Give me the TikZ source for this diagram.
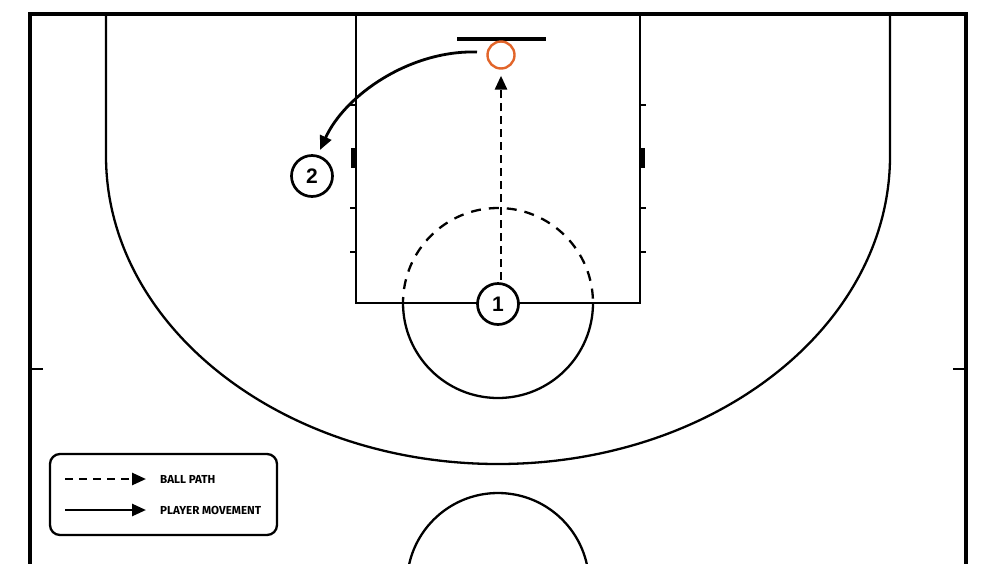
\documentclass[tikz,border=0pt]{standalone}
\usepackage{fontspec}
\setmainfont{Liberation Sans}
\newfontfamily\legendfont{Fira Sans}
\usetikzlibrary{arrows.meta}
\definecolor{hooporange}{HTML}{E2652A}
\begin{document}
\begin{tikzpicture}[x=1pt,y=-1pt,
  court/.style={line width=2.3pt,black},
  bound/.style={line width=3.8pt,black},
  tickmark/.style={line width=2.3pt,black},
  blockmark/.style={fill=black,draw=none},
  player/.style={circle,draw,line width=2.7pt,minimum size=41pt,inner sep=0pt,font=\fontsize{21}{21}\selectfont\bfseries,fill=white},
  ballpath/.style={line width=2.8pt,dash pattern=on 8pt off 5pt,-{Triangle[length=14pt,width=12pt]}},
  movement/.style={line width=2.8pt,-{Triangle[length=14pt,width=12pt]}},
  legtext/.style={font=\legendfont\fontsize{11.6}{12}\selectfont\bfseries,anchor=west,inner sep=0pt}]
\useasboundingbox (0,0) rectangle (1000,563);
\fill[white] (0,0) rectangle (1000,563);
\begin{scope}
\clip (0,0) rectangle (1000,563);
% boundary
\draw[bound] (30,620) -- (30,14) -- (966,14) -- (966,620);
% midcourt ticks
\draw[tickmark] (30,369) -- (43,369);
\draw[tickmark] (953,369) -- (966,369);
% three point line
\draw[court] (106,14) -- (106,156) arc[start angle=180,end angle=0,x radius=392,y radius=308] -- (890,14);
% lane
\draw[court] (356,14) -- (356,303) -- (640,303) -- (640,14);
% lane ticks
\foreach \yy in {105,208,252}{
  \draw[tickmark] (350,\yy) -- (356,\yy);
  \draw[tickmark] (640,\yy) -- (646,\yy);
}
\fill[blockmark] (351,148) rectangle (356,168);
\fill[blockmark] (640,148) rectangle (645,168);
% free throw circle
\draw[court,dash pattern=on 10pt off 8pt,dash phase=4pt] (403,303) arc[start angle=180,end angle=360,radius=95];
\draw[court] (403,303) arc[start angle=180,end angle=0,radius=95];
% center circle
\draw[court] (498,584) circle[radius=91];
% backboard
\draw[line width=3.4pt] (457,39) -- (546,39);
\end{scope}
% hoop
\node[circle,draw=hooporange,line width=2.4pt,minimum size=27pt,inner sep=0pt] (hoop) at (501,55) {};
% players
\node[player] (p1) at (498,304) {1};
\node[player] (p2) at (312,176) {2};
% ball path
\coordinate (bpstart) at (501,280);
\draw[ballpath,shorten >=6pt] (bpstart) -- (hoop.south -| bpstart);
% player movement
\coordinate (mvstart) at (477,52);
\coordinate (mvend) at (320,150);
\draw[movement] (mvstart) .. controls (410,50) and (345,95) .. (mvend);
% legend
\node[draw,line width=2.3pt,rounded corners=10pt,minimum width=227pt,minimum height=81pt,inner sep=0pt] (legend) at (163.5,494.5) {};
\coordinate (l1s) at (65,479);
\coordinate (l1e) at (146,479);
\coordinate (l2s) at (65,510);
\coordinate (l2e) at (146,510);
\draw[ballpath,line width=2.6pt,dash pattern=on 8pt off 6pt] (l1s) -- (l1e);
\draw[movement,line width=2.6pt] (l2s) -- (l2e);
\node[legtext] (t1) at (160,479) {BALL PATH};
\node[legtext] (t2) at (160,510) {PLAYER MOVEMENT};
\end{tikzpicture}
\end{document}
